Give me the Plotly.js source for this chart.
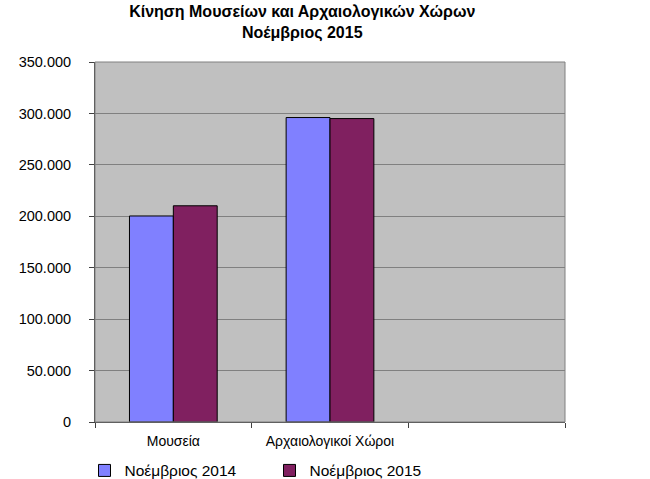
<!DOCTYPE html>
<html>
<head>
<meta charset="utf-8">
<script src="https://cdn.plot.ly/plotly-3.0.1.min.js"></script>
<style>body{margin:0;padding:0;background:#fff;}</style>
</head>
<body>
<div id="myChart" style="width:650px;height:479px;"></div>
<script>
var categories = ["Μουσεία", "Αρχαιολογικοί Χώροι", " "];
var nov2014 = [200300, 296000, null];
var nov2015 = [210200, 295000, null];
var seriesNames = ["Νοέμβριος 2014", "Νοέμβριος 2015"];
var seriesColours = ["#8080FF", "#802060"];

var data = [nov2014, nov2015].map(function (vals, i) {
  return {
    x: categories,
    y: vals,
    name: seriesNames[i],
    type: 'bar',
    marker: {
      color: seriesColours[i],
      line: {color: '#000000', width: 1}
    },
    hoverinfo: 'skip'
  };
});

var layout = {
  width: 650,
  height: 479,
  font: {family: 'Liberation Sans, Arial, sans-serif', size: 14, color: '#000'},
  separators: ',.',
  title: {
    text: '<b>Κίνηση Μουσείων και Αρχαιολογικών Χώρων<br>Νοέμβριος 2015</b>',
    font: {size: 16, color: '#000'},
    x: 0.465,
    xref: 'container',
    xanchor: 'center',
    y: 0.965,
    yref: 'container',
    yanchor: 'middle'
  },
  margin: {l: 95, r: 85, t: 62, b: 57, autoexpand: false},
  paper_bgcolor: '#FFFFFF',
  plot_bgcolor: '#C0C0C0',
  barmode: 'group',
  bargap: 0.44,
  bargroupgap: 0,
  xaxis: {
    type: 'category',
    categoryorder: 'array',
    categoryarray: categories,
    range: [-0.5, 2.5],
    tickson: 'boundaries',
    ticks: 'outside',
    ticklen: 5,
    tickcolor: '#404040',
    tickfont: {size: 14},
    ticklabelstandoff: 6,
    showline: true,
    linecolor: '#404040',
    linewidth: 1,
    showgrid: false,
    zeroline: false
  },
  yaxis: {
    range: [0, 350000],
    dtick: 50000,
    tickformat: ',d',
    ticks: 'outside',
    ticklen: 5,
    tickcolor: '#404040',
    tickfont: {size: 14.5},
    ticklabelstandoff: 15,
    showline: true,
    linecolor: '#404040',
    linewidth: 1,
    gridcolor: '#808080',
    gridwidth: 1,
    zeroline: false
  },
  shapes: [{
    type: 'rect', xref: 'paper', yref: 'paper',
    x0: 0, x1: 1, y0: 0, y1: 1,
    line: {color: '#808080', width: 1}
  }],
  legend: {
    orientation: 'h',
    xref: 'container',
    x: 0.13,
    xanchor: 'left',
    yref: 'container',
    y: 0.017,
    yanchor: 'middle',
    entrywidth: 140,
    font: {size: 15.5},
    itemwidth: 30,
    bgcolor: 'rgba(0,0,0,0)'
  },
  showlegend: true
};

Plotly.newPlot('myChart', data, layout, {displayModeBar: false, staticPlot: true});
</script>
</body>
</html>
